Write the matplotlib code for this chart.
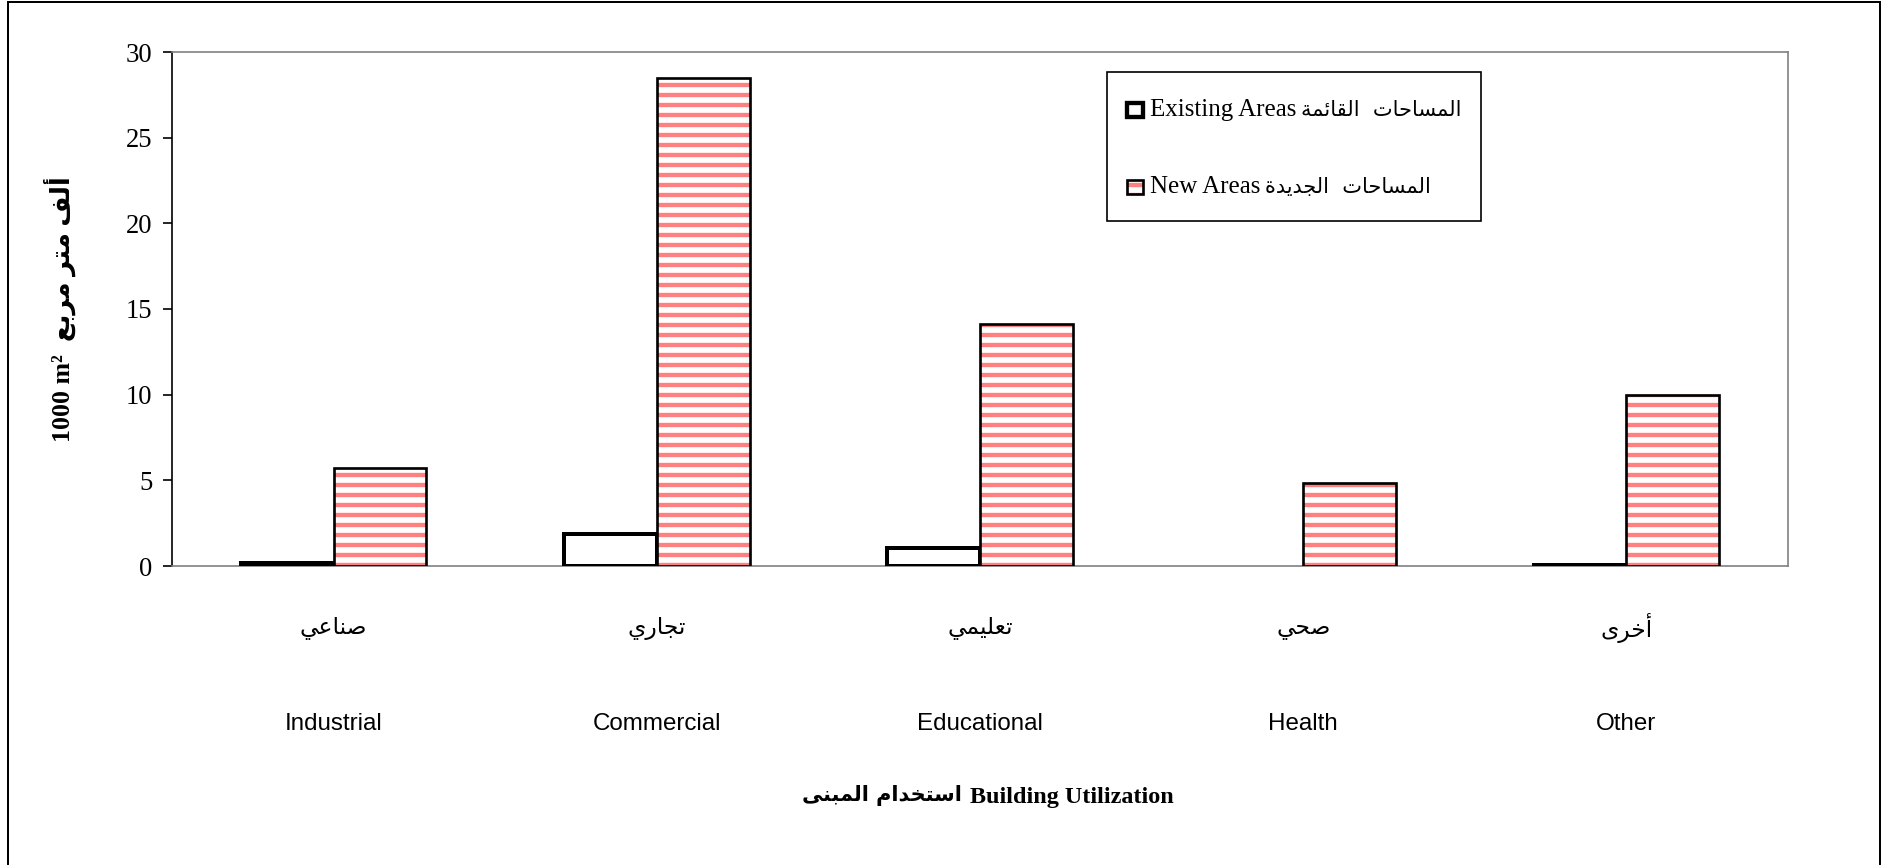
import matplotlib
matplotlib.use("Agg")
import matplotlib.pyplot as plt
import numpy as np
from matplotlib.patches import Rectangle
from matplotlib.lines import Line2D
import matplotlib.transforms as mtransforms

# ---- data ----
categorias_en = ['Industrial', 'Commercial', 'Educational', 'Health', 'Other']
categorias_ar = ['صناعي', 'تجاري', 'تعليمي', 'صحي', 'أخرى']
existentes = [0.15, 1.85, 1.05, 0.0, 0.08]
novas = [5.7, 28.5, 14.1, 4.85, 10.0]
y_ticks = [0, 5, 10, 15, 20, 25, 30]
legenda_en = ['Existing Areas', 'New Areas']
legenda_ar = ['المساحات  القائمة', 'المساحات  الجديدة']


# formas de apresentacao arabe (isolada, final, inicial, medial)
FORMAS = {
    'ا': (0xFE8D, 0xFE8E, None, None),
    'أ': (0xFE83, 0xFE84, None, None),
    'ب': (0xFE8F, 0xFE90, 0xFE91, 0xFE92),
    'ة': (0xFE93, 0xFE94, None, None),
    'ت': (0xFE95, 0xFE96, 0xFE97, 0xFE98),
    'ج': (0xFE9D, 0xFE9E, 0xFE9F, 0xFEA0),
    'ح': (0xFEA1, 0xFEA2, 0xFEA3, 0xFEA4),
    'خ': (0xFEA5, 0xFEA6, 0xFEA7, 0xFEA8),
    'د': (0xFEA9, 0xFEAA, None, None),
    'ر': (0xFEAD, 0xFEAE, None, None),
    'س': (0xFEB1, 0xFEB2, 0xFEB3, 0xFEB4),
    'ص': (0xFEB9, 0xFEBA, 0xFEBB, 0xFEBC),
    'ع': (0xFEC9, 0xFECA, 0xFECB, 0xFECC),
    'ف': (0xFED1, 0xFED2, 0xFED3, 0xFED4),
    'ق': (0xFED5, 0xFED6, 0xFED7, 0xFED8),
    'ل': (0xFEDD, 0xFEDE, 0xFEDF, 0xFEE0),
    'م': (0xFEE1, 0xFEE2, 0xFEE3, 0xFEE4),
    'ن': (0xFEE5, 0xFEE6, 0xFEE7, 0xFEE8),
    'ى': (0xFEEF, 0xFEF0, None, None),
    'ي': (0xFEF1, 0xFEF2, 0xFEF3, 0xFEF4),
    'ئ': (0xFE89, 0xFE8A, 0xFE8B, 0xFE8C),
}
LAM_ALEF = {'ا': (0xFEFB, 0xFEFC), 'أ': (0xFEF7, 0xFEF8)}


def ar(texto):
    """Junta as letras arabes e devolve na ordem visual."""
    saida = []
    c = list(texto)
    n = len(c)
    i = 0
    liga_antes = False
    while i < n:
        ch = c[i]
        if ch not in FORMAS:
            saida.append(ch)
            liga_antes = False
            i += 1
            continue
        if ch == 'ل' and i + 1 < n and c[i + 1] in LAM_ALEF:
            iso, fin = LAM_ALEF[c[i + 1]]
            saida.append(chr(fin if liga_antes else iso))
            liga_antes = False
            i += 2
            continue
        iso, fin, ini, med = FORMAS[ch]
        prox = c[i + 1] if i + 1 < n else None
        liga_depois = ini is not None and prox in FORMAS
        if liga_antes and liga_depois:
            g = med
        elif liga_antes:
            g = fin
        elif liga_depois:
            g = ini
        else:
            g = iso
        saida.append(chr(g))
        liga_antes = ini is not None
        i += 1
    return ''.join(reversed(saida))


SERIF = ['Liberation Serif', 'DejaVu Sans']
W, H, DPI = 1883, 865, 120


def fx(px):
    return px / W


def fy(py):
    return 1 - py / H


fig = plt.figure(figsize=(W / DPI, H / DPI), dpi=DPI)
ax = fig.add_axes([fx(172), fy(566), (1788 - 172) / W, (566 - 52) / H])

plt.rcParams['hatch.linewidth'] = 2.6

x = np.arange(len(categorias_en))
largura = 0.287
cor_nova = '#FF8080'

ex = np.array(existentes)
mask = ex > 0
ax.bar(x[mask] - largura / 2, ex[mask], largura, facecolor='white',
       edgecolor='black', linewidth=2.4, zorder=3)

ax.bar(x + largura / 2, novas, largura, facecolor='white', edgecolor=cor_nova,
       hatch='--', linewidth=0, zorder=3)
ax.bar(x + largura / 2, novas, largura, fill=False, edgecolor='black',
       linewidth=1.6, zorder=4)

ax.set_xlim(-0.5, len(categorias_en) - 0.5)
ax.set_ylim(0, 30)
ax.set_yticks(y_ticks)
ax.set_yticklabels([str(v) for v in y_ticks], family=SERIF, fontsize=16)
ax.tick_params(axis='y', direction='out', length=5.4, width=1, pad=6.5, colors='black')
ax.set_xticks([])

for lado in ['top', 'right', 'bottom']:
    ax.spines[lado].set_color('#808080')
    ax.spines[lado].set_linewidth(1)
ax.spines['left'].set_color('black')
ax.spines['left'].set_linewidth(1)

# rotulos das categorias (arabe em cima, ingles embaixo)
trans = mtransforms.blended_transform_factory(ax.transData, fig.transFigure)
for xi, nome_ar, nome_en in zip(x, categorias_ar, categorias_en):
    ax.text(xi, fy(628), ar(nome_ar), transform=trans, ha='center', va='center',
            fontsize=14, family='DejaVu Sans')
    ax.text(xi, fy(724), nome_en, transform=trans, ha='center', va='center',
            fontsize=14.5, family='Liberation Sans')

# titulo do eixo x: ingles a direita, arabe a esquerda
fig.text(fx(970), fy(797), 'Building Utilization', ha='left', va='center',
         fontsize=14.5, fontweight='bold', family='Liberation Serif')
fig.text(fx(962), fy(795), ar('استخدام المبنى'), ha='right', va='center',
         fontsize=12.5, fontweight='bold', family='DejaVu Sans')

fig.text(fx(60), fy(309), '1000 m\u00b2  ' + ar('ألف متر مربع'), rotation=90,
         ha='center', va='center', fontsize=15.5, fontweight='bold', family=SERIF)

# legenda feita a mao (moldura, marcadores e textos)
fig.add_artist(Rectangle((fx(1107), fy(221)), (1481 - 1107) / W, (221 - 72) / H,
                         transform=fig.transFigure, fill=False, edgecolor='black', linewidth=1))
linhas_y = [110, 187]
mw, mh = 16, 14
fig.add_artist(Rectangle((fx(1127), fy(linhas_y[0] + mh / 2)), mw / W, mh / H,
                         transform=fig.transFigure, facecolor='white', edgecolor='black',
                         linewidth=2.6))
fig.add_artist(Rectangle((fx(1127), fy(linhas_y[1] + mh / 2)), mw / W, mh / H,
                         transform=fig.transFigure, facecolor='white', edgecolor=cor_nova,
                         hatch='--', linewidth=0))
fig.add_artist(Rectangle((fx(1127), fy(linhas_y[1] + mh / 2)), mw / W, mh / H,
                         transform=fig.transFigure, fill=False, edgecolor='black',
                         linewidth=1.6))

textos = []
for yy, lab in zip(linhas_y, legenda_en):
    textos.append(fig.text(fx(1150), fy(yy), lab, ha='left', va='center',
                           fontsize=15, family='Liberation Serif'))

fig.canvas.draw()
inv = fig.transFigure.inverted()
for txt, lab_ar in zip(textos, legenda_ar):
    bb = txt.get_window_extent()
    px, py = inv.transform((bb.x1 + 5, (bb.y0 + bb.y1) / 2))
    fig.text(px, py, ar(lab_ar), ha='left', va='center', fontsize=12.5, family='DejaVu Sans')

# moldura externa
for xs, ys in [([fx(8), fx(8)], [0, fy(2)]),
               ([fx(8), fx(1880)], [fy(2), fy(2)]),
               ([fx(1880), fx(1880)], [0, fy(2)])]:
    fig.add_artist(Line2D(xs, ys, transform=fig.transFigure, color='black', linewidth=1.2))

fig.savefig('out.png', dpi=DPI)
plt.close(fig)
